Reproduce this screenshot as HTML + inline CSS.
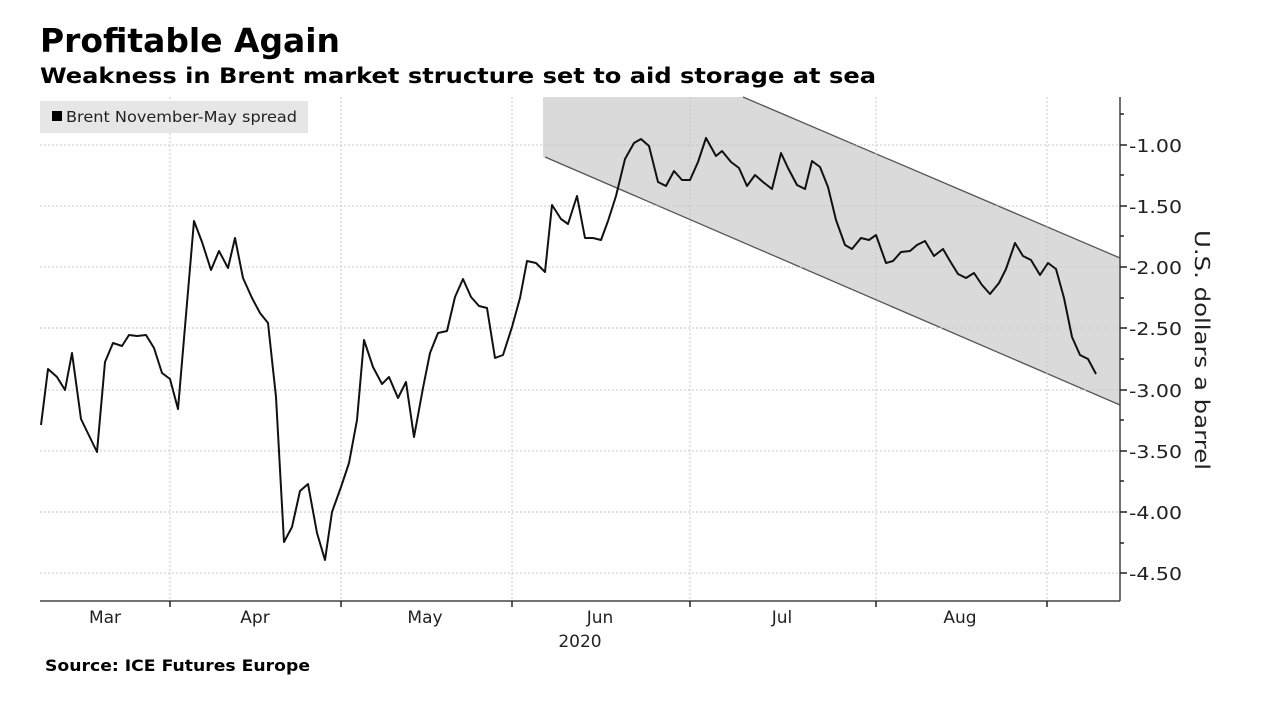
<!DOCTYPE html>
<html><head><meta charset="utf-8"><style>
body{margin:0;background:#fff;width:1280px;height:720px;overflow:hidden;font-family:"DejaVu Sans","Liberation Sans",sans-serif}
</style></head><body>
<svg width="1280" height="720" viewBox="0 0 1280 720" xmlns="http://www.w3.org/2000/svg" font-family="'DejaVu Sans','Liberation Sans',sans-serif">
<text x="40" y="52" font-size="33" font-weight="bold" fill="#000" textLength="300" lengthAdjust="spacingAndGlyphs">Profitable Again</text>
<text x="40" y="83" font-size="21" font-weight="bold" fill="#000" textLength="836" lengthAdjust="spacingAndGlyphs">Weakness in Brent market structure set to aid storage at sea</text>
<polygon points="543,97 743,97 1120,258 1120,405 545,157 543,157" fill="#dadada"/>
<line x1="743" y1="97" x2="1120" y2="258" stroke="#555" stroke-width="1.3"/>
<line x1="545" y1="157" x2="1120" y2="405" stroke="#555" stroke-width="1.3"/>
<g stroke="#c8c8c8" stroke-width="1" stroke-dasharray="2,2">
<line x1="40" y1="145" x2="1120" y2="145"/><line x1="40" y1="206" x2="1120" y2="206"/>
<line x1="40" y1="267" x2="1120" y2="267"/><line x1="40" y1="328" x2="1120" y2="328"/>
<line x1="40" y1="390" x2="1120" y2="390"/><line x1="40" y1="451" x2="1120" y2="451"/>
<line x1="40" y1="512" x2="1120" y2="512"/><line x1="40" y1="573" x2="1120" y2="573"/>
<line x1="170" y1="97" x2="170" y2="601"/><line x1="341" y1="97" x2="341" y2="601"/>
<line x1="512" y1="97" x2="512" y2="601"/><line x1="690" y1="97" x2="690" y2="601"/>
<line x1="876" y1="97" x2="876" y2="601"/><line x1="1047" y1="97" x2="1047" y2="601"/>
</g>
<rect x="40" y="101" width="268" height="32" fill="#e6e6e6"/>
<rect x="52" y="111" width="10" height="10" fill="#000"/>
<text x="66" y="122" font-size="15" fill="#222" textLength="231" lengthAdjust="spacingAndGlyphs">Brent November-May spread</text>
<polyline fill="none" stroke="#111" stroke-width="2" stroke-linejoin="round" points="41,425 48,369 57,377 65,390 72,353 81,419 97,452 105,362 113,343 122,346 129,335 137,336 146,335 154,348 162,373 170,379 178,409 194,221 202,242 211,270 219,251 228,268 235,238 243,278 252,298 260,313 268,323 276,397 284,542 292,527 300,491 308,484 317,533 325,560 332,512 341,487 349,463 357,420 364,340 373,367 382,384 389,377 398,398 406,382 414,437 423,388 430,353 438,333 447,331 455,297 463,279 471,297 479,306 487,308 495,358 503,355 512,327 520,298 527,261 536,263 545,272 552,205 561,219 568,224 577,196 585,238 593,238 601,240 608,221 616,196 625,159 634,143 641,139 649,146 658,182 666,186 674,171 682,180 690,180 698,162 706,138 716,156 722,151 731,162 739,168 747,186 755,175 763,182 772,189 781,153 788,168 797,185 805,189 812,161 820,167 828,187 836,220 845,245 852,249 861,238 869,240 876,235 886,263 893,261 901,252 910,251 917,245 925,241 934,256 943,249 950,261 958,274 966,278 974,273 982,285 990,294 999,283 1006,269 1015,243 1023,256 1031,260 1040,275 1048,263 1056,269 1064,298 1072,337 1080,355 1088,359 1096,374"/>
<g stroke="#444" stroke-width="1.5">
<line x1="1120" y1="97" x2="1120" y2="601"/>
<line x1="40" y1="601" x2="1120" y2="601"/>
</g>
<g stroke="#222" stroke-width="1.5">
<line x1="1120" y1="145" x2="1127" y2="145"/><line x1="1120" y1="206" x2="1127" y2="206"/>
<line x1="1120" y1="267" x2="1127" y2="267"/><line x1="1120" y1="328" x2="1127" y2="328"/>
<line x1="1120" y1="390" x2="1127" y2="390"/><line x1="1120" y1="451" x2="1127" y2="451"/>
<line x1="1120" y1="512" x2="1127" y2="512"/><line x1="1120" y1="573" x2="1127" y2="573"/>
<line x1="1120" y1="114" x2="1124" y2="114"/><line x1="1120" y1="175" x2="1124" y2="175"/>
<line x1="1120" y1="236" x2="1124" y2="236"/><line x1="1120" y1="298" x2="1124" y2="298"/>
<line x1="1120" y1="359" x2="1124" y2="359"/><line x1="1120" y1="420" x2="1124" y2="420"/>
<line x1="1120" y1="481" x2="1124" y2="481"/><line x1="1120" y1="543" x2="1124" y2="543"/>
<line x1="170" y1="601" x2="170" y2="607"/><line x1="341" y1="601" x2="341" y2="607"/>
<line x1="512" y1="601" x2="512" y2="607"/><line x1="690" y1="601" x2="690" y2="607"/>
<line x1="876" y1="601" x2="876" y2="607"/><line x1="1047" y1="601" x2="1047" y2="607"/>
</g>
<g font-size="18" fill="#222">
<text x="1129" y="152" textLength="53" lengthAdjust="spacingAndGlyphs">-1.00</text><text x="1129" y="213" textLength="53" lengthAdjust="spacingAndGlyphs">-1.50</text>
<text x="1129" y="274" textLength="53" lengthAdjust="spacingAndGlyphs">-2.00</text><text x="1129" y="335" textLength="53" lengthAdjust="spacingAndGlyphs">-2.50</text>
<text x="1129" y="397" textLength="53" lengthAdjust="spacingAndGlyphs">-3.00</text><text x="1129" y="458" textLength="53" lengthAdjust="spacingAndGlyphs">-3.50</text>
<text x="1129" y="519" textLength="53" lengthAdjust="spacingAndGlyphs">-4.00</text><text x="1129" y="580" textLength="53" lengthAdjust="spacingAndGlyphs">-4.50</text>
</g>
<text transform="translate(1195,350) rotate(90)" text-anchor="middle" font-size="20" fill="#222" textLength="240" lengthAdjust="spacingAndGlyphs">U.S. dollars a barrel</text>
<g font-size="17" fill="#222" text-anchor="middle">
<text x="105" y="623">Mar</text><text x="255" y="623">Apr</text><text x="425" y="623">May</text>
<text x="600" y="623">Jun</text><text x="782" y="623">Jul</text><text x="960" y="623">Aug</text>
<text x="580" y="647">2020</text>
</g>
<text x="45" y="671" font-size="16" font-weight="bold" fill="#000" textLength="265" lengthAdjust="spacingAndGlyphs">Source: ICE Futures Europe</text>
</svg>
</body></html>
